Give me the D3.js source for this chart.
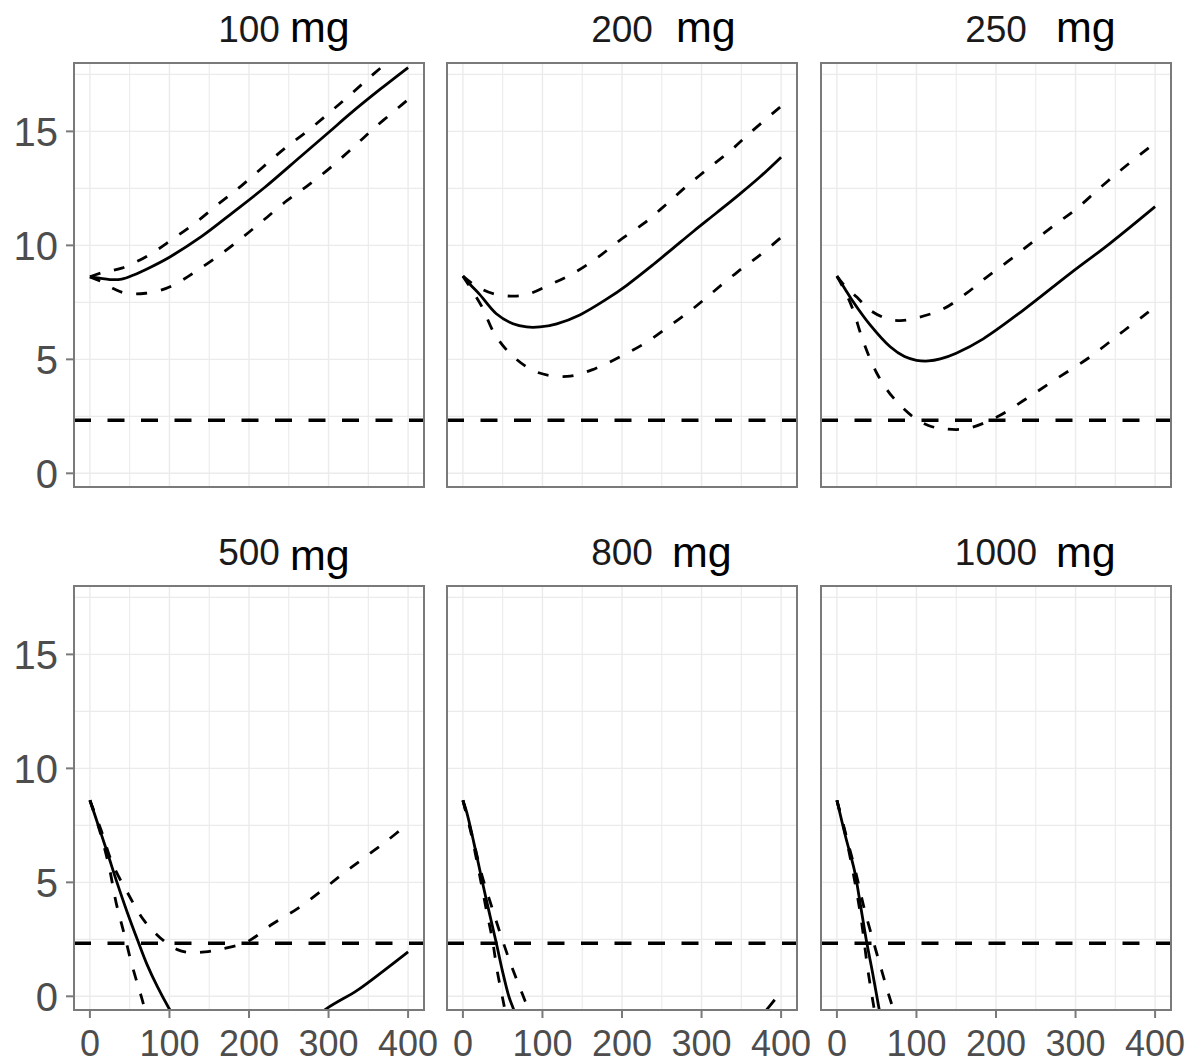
<!DOCTYPE html>
<html>
<head>
<meta charset="utf-8">
<script src="https://cdn.jsdelivr.net/npm/d3@7"></script>
<style>
  body { margin: 0; background: #fff; }
  text { font-family: "Liberation Sans", Arial, sans-serif; }
</style>
</head>
<body>
<svg id="chart" width="1187" height="1064"></svg>
<script>
// ---- data -------------------------------------------------------------
const doses = ["100", "200", "250", "500", "800", "1000"];
const doseUnit = "mg";
const threshold = 2.33;
const xTicks = [0, 100, 200, 300, 400];
const yTicks = [0, 5, 10, 15];
const xMinor = [50, 150, 250, 350];
const yMinor = [2.5, 7.5, 12.5, 17.5];

// [time, value] pairs: median and the two interval bounds per dose
const median100 = [[0,8.62],[12,8.56],[25,8.5],[40,8.52],[55,8.7],[75,9.02],[100,9.48],[140,10.38],[180,11.45],[220,12.55],[265,13.9],[300,14.95],[328,15.8],[365,16.85],[400,17.8]];
const upper100  = [[0,8.62],[15,8.8],[40,9.0],[73,9.55],[103,10.25],[133,11.0],[161,11.8],[190,12.6],[243,14.2],[273,15.0],[302,15.85],[327,16.6],[356,17.5],[400,18.8]];
const lower100  = [[0,8.62],[15,8.4],[30,8.1],[45,7.9],[70,7.9],[95,8.1],[115,8.45],[135,8.9],[160,9.5],[190,10.3],[218,11.1],[248,11.97],[273,12.6],[302,13.4],[331,14.3],[356,15.1],[388,16.05],[400,16.4]];

const median200 = [[0,8.65],[10,8.25],[21,7.85],[42,7.0],[63,6.56],[80,6.42],[97,6.42],[118,6.56],[147,6.95],[181,7.65],[206,8.25],[239,9.15],[264,9.87],[290,10.62],[319,11.43],[348,12.25],[374,13.02],[400,13.87]];
const upper200  = [[0,8.65],[15,8.25],[38,7.88],[75,7.8],[110,8.29],[140,8.8],[169,9.46],[196,10.19],[227,10.95],[254,11.75],[280,12.56],[308,13.36],[336,14.14],[363,15.0],[400,16.1]];
const lower200  = [[0,8.65],[12,8.0],[24,7.3],[41,6.05],[64,5.1],[93,4.44],[131,4.25],[166,4.59],[197,5.1],[228,5.69],[258,6.42],[288,7.19],[316,8.0],[345,8.83],[373,9.56],[400,10.35]];

const median250 = [[0,8.65],[10,8.1],[20,7.55],[42,6.5],[67,5.55],[85,5.12],[100,4.96],[115,4.93],[130,5.02],[150,5.27],[184,5.9],[234,7.15],[293,8.76],[343,10.08],[400,11.7]];
const upper250  = [[0,8.65],[8,8.3],[25,7.73],[42,7.15],[63,6.78],[80,6.7],[96,6.78],[133,7.2],[163,7.9],[188,8.6],[217,9.35],[246,10.15],[276,10.95],[301,11.6],[330,12.5],[359,13.36],[400,14.5]];
const lower250  = [[0,8.65],[10,8.0],[20,7.2],[33,5.8],[50,4.4],[70,3.35],[96,2.47],[115,2.1],[133,1.96],[163,1.96],[201,2.47],[238,3.27],[276,4.15],[318,5.1],[355,6.1],[385,6.9],[400,7.3]];

const median500 = [[0,8.6],[11,7.45],[22,6.3],[34,5.0],[47,3.68],[60,2.46],[72,1.38],[85,0.41],[99,-0.5],[115,-1.4],[150,-2.3],[200,-2.6],[250,-1.8],[298,-0.53],[336,0.26],[370,1.14],[400,1.95]];
const upper500  = [[0,8.6],[14,7.3],[28,5.85],[48,4.5],[68,3.33],[93,2.43],[110,2.05],[126,1.92],[145,1.95],[165,2.07],[197,2.38],[229,3.16],[261,3.85],[289,4.57],[317,5.35],[345,6.08],[374,6.84],[400,7.57]];
const lower500  = [[0,8.6],[12,7.3],[24,5.7],[33,4.1],[43,2.75],[53,1.36],[65,-0.06],[75,-1.3]];

const median800 = [[0,8.6],[5,8.05],[14,6.7],[24,5.09],[32.5,3.77],[42,2.34],[49.5,1.14],[58,-0.03],[64,-0.6],[80,-2.2],[150,-5.5],[250,-5.0],[340,-2.4],[370,-1.1],[385,-0.45],[392,-0.15]];
const upper800  = [[0,8.6],[12,7.0],[24,5.3],[36,3.95],[47,2.75],[60,1.43],[74.5,0.12],[85,-0.8]];
const lower800  = [[0,8.6],[10,7.2],[20,5.5],[30,3.7],[37,2.5],[43,1.14],[51,-0.27],[58,-1.5]];

const median1000 = [[0,8.6],[11,6.99],[22,5.53],[30,3.92],[37,2.46],[45,1.0],[53,-0.54],[65,-2.8]];
const upper1000  = [[0,8.6],[12,7.0],[24,5.4],[34,3.9],[43,2.75],[55,1.29],[66,-0.03],[75,-1.0]];
const lower1000  = [[0,8.6],[10,7.2],[20,5.5],[30,3.5],[39,1.14],[45,-0.17],[50,-1.2]];

const medians = [median100, median200, median250, median500, median800, median1000];
const uppers  = [upper100, upper200, upper250, upper500, upper800, upper1000];
const lowers  = [lower100, lower200, lower250, lower500, lower800, lower1000];

// ---- layout -----------------------------------------------------------
const panelLefts = [74, 447, 821];
const panelTops = [63, 586];
const panelW = 350, panelH = 424;
const unitOffsetX = [216, 229, 235, 216, 225, 235];   // placement of the unit word in each strip
const unitOffsetY = [0, 0, 0, 5, 2, 2];

const borderColor = "#7a7a7a";
const gridColor = "#ebebeb";
const tickText = "#4d4d4d";

const svg = d3.select("#chart");
const defs = svg.append("defs");

const x = d3.scaleLinear().domain([-20, 420]).range([0, panelW]);
const y = d3.scaleLinear().domain([-0.6, 18.0]).range([panelH, 0]);

const line = d3.line()
  .x(d => x(d[0]))
  .y(d => y(d[1]))
  .curve(d3.curveCatmullRom.alpha(0.5));

doses.forEach((dose, i) => {
  const col = i % 3, row = Math.floor(i / 3);
  const left = panelLefts[col], top = panelTops[row];
  const g = svg.append("g").attr("transform", `translate(${left},${top})`);

  defs.append("clipPath").attr("id", "clip" + i)
    .append("rect").attr("width", panelW).attr("height", panelH);

  // grid
  const grid = g.append("g");
  grid.selectAll(".vminor").data(xMinor).join("line")
    .attr("x1", d => x(d)).attr("x2", d => x(d))
    .attr("y1", 0).attr("y2", panelH)
    .attr("stroke", gridColor).attr("stroke-width", 1.1);
  grid.selectAll(".hminor").data(yMinor).join("line")
    .attr("y1", d => y(d)).attr("y2", d => y(d))
    .attr("x1", 0).attr("x2", panelW)
    .attr("stroke", gridColor).attr("stroke-width", 1.1);
  grid.selectAll(".vmajor").data(xTicks).join("line")
    .attr("x1", d => x(d)).attr("x2", d => x(d))
    .attr("y1", 0).attr("y2", panelH)
    .attr("stroke", gridColor).attr("stroke-width", 1.4);
  grid.selectAll(".hmajor").data(yTicks).join("line")
    .attr("y1", d => y(d)).attr("y2", d => y(d))
    .attr("x1", 0).attr("x2", panelW)
    .attr("stroke", gridColor).attr("stroke-width", 1.4);

  const plot = g.append("g").attr("clip-path", `url(#clip${i})`);

  // threshold reference
  plot.append("line")
    .attr("x1", 0).attr("x2", panelW)
    .attr("y1", y(threshold)).attr("y2", y(threshold))
    .attr("stroke", "#000").attr("stroke-width", 3.4)
    .attr("stroke-dasharray", "17 16.5");

  // interval bounds
  [uppers[i], lowers[i]].forEach(series => {
    plot.append("path").datum(series)
      .attr("d", line)
      .attr("fill", "none").attr("stroke", "#000")
      .attr("stroke-width", 2.8)
      .attr("stroke-dasharray", "11 14");
  });

  // median
  plot.append("path").datum(medians[i])
    .attr("d", line)
    .attr("fill", "none").attr("stroke", "#000")
    .attr("stroke-width", 2.8);

  // border
  g.append("rect").attr("width", panelW).attr("height", panelH)
    .attr("fill", "none").attr("stroke", borderColor).attr("stroke-width", 2);

  // strip label
  g.append("text")
    .attr("x", panelW / 2).attr("y", -21)
    .attr("text-anchor", "middle")
    .attr("font-size", 37).attr("fill", "#1a1a1a")
    .text(dose);
  g.append("text")
    .attr("x", unitOffsetX[i]).attr("y", -21 + unitOffsetY[i])
    .attr("font-size", 43).attr("fill", "#000")
    .text(doseUnit);

  // y axis on the left column
  if (col === 0) {
    const ya = g.append("g");
    ya.selectAll("line").data(yTicks).join("line")
      .attr("x1", -8).attr("x2", 0)
      .attr("y1", d => y(d)).attr("y2", d => y(d))
      .attr("stroke", borderColor).attr("stroke-width", 2);
    ya.selectAll("text").data(yTicks).join("text")
      .attr("x", -16).attr("y", d => y(d))
      .attr("dy", "0.36em")
      .attr("text-anchor", "end")
      .attr("font-size", 40).attr("fill", tickText)
      .text(d => d);
  }
  // x axis on the bottom row
  if (row === 1) {
    const xa = g.append("g");
    xa.selectAll("line").data(xTicks).join("line")
      .attr("x1", d => x(d)).attr("x2", d => x(d))
      .attr("y1", panelH).attr("y2", panelH + 8)
      .attr("stroke", borderColor).attr("stroke-width", 2);
    xa.selectAll("text").data(xTicks).join("text")
      .attr("x", d => x(d)).attr("y", panelH + 46)
      .attr("text-anchor", "middle")
      .attr("font-size", 36).attr("fill", tickText)
      .text(d => d);
  }
});
</script>
</body>
</html>
